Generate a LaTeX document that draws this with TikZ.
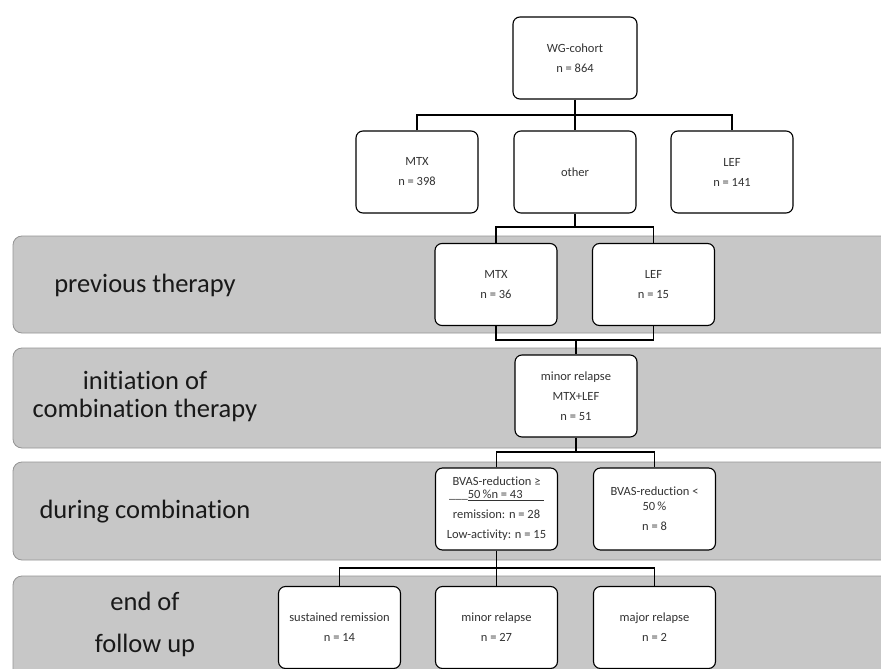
\documentclass[tikz,border=0pt]{standalone}
\usepackage{fontspec}
\setmainfont{Carlito}[Ligatures={NoCommon}]
\usetikzlibrary{positioning,calc,backgrounds}

\begin{document}
\begin{tikzpicture}[
  x=1pt, y=-1pt,
  font=\fontsize{12.5}{20}\selectfont,
  box/.style={rectangle, rounded corners=7pt, draw=black, line width=1.1pt,
              fill=white, minimum width=122pt, minimum height=82pt,
              align=center, text=black!80, inner sep=2pt},
  band/.style={rounded corners=9pt, draw=black!42, line width=0.8pt, fill=black!22},
  phase/.style={font=\fontsize{26.5}{28}\selectfont, align=center, text=black!90},
  link/.style={line width=1.1pt, draw=black}
]
\clip (0,0) rectangle (881,669);

% Phase bands
\path[band] (13,236) rectangle (910,333);
\path[band] (13,348) rectangle (910,448);
\path[band] (13,462) rectangle (910,560);
\path[band] (13,576) rectangle (910,710);

% Phase labels
\node[phase] (lprev) at (145,285) {previous therapy};
\node[phase] (linit) at (145,397) {initiation of\\combination therapy};
\node[phase] (ldur)  at (145,512) {during combination};
\node[phase, font=\fontsize{26.5}{42}\selectfont] (lend) at (145,624) {end of\\follow up};

% Cohort and first-line therapy
\node[box, minimum width=124pt] (wg) at (575,58) {WG-cohort\\n = 864};
\node[box] (mtxa)  at (417,172) {MTX\\n = 398};
\node[box] (other) at (575,172) {other};
\node[box] (lefa)  at (732,172) {LEF\\n = 141};

% Previous therapy
\node[box] (mtxb) at (496,284.5) {MTX\\n = 36};
\node[box] (lefb) at (653.5,284.5) {LEF\\n = 15};

% Combination
\node[box] (comb) at (576,396) {minor relapse\\MTX+LEF\\n = 51};

% During combination
\node[box] (good) at (496.5,509)
  {BVAS-reduction ≥\\[-7pt]\_\_\_\underline{50\,\%n = 43\hspace{1.7em}}\\remission: n = 28\\Low-activity: n = 15};
\node[box] (poor) at (654.5,509) {BVAS-reduction <\\[-5pt]50\,\%\\n = 8};

% End of follow up
\node[box] (sust) at (339.5,627.5) {sustained remission\\n = 14};
\node[box] (minr) at (496.5,627.5) {minor relapse\\n = 27};
\node[box] (majr) at (654.5,627.5) {major relapse\\n = 2};

% Connectors
\coordinate (f1) at (575,115);
\draw[link] (wg) -- (f1);
\draw[link] (mtxa.north) |- (f1) -| (lefa.north);
\draw[link] (f1) -- (other);

\coordinate (f2) at (575,227);
\draw[link] (other) -- (f2);
\draw[link] (mtxb.north) |- (f2) -| (lefb.north);

\coordinate (f3) at (576,340);
\draw[link] (mtxb.south) |- (f3) -| (lefb.south);
\draw[link] (f3) -- (comb);

\coordinate (f4) at (576,452);
\draw[link] (comb) -- (f4);
\draw[link] (good.north) |- (f4) -| (poor.north);

\coordinate (f5) at (496.5,568);
\draw[link] (good) -- (f5);
\draw[link] (sust.north) |- (f5) -| (majr.north);
\draw[link] (f5) -- (minr);

\end{tikzpicture}
\end{document}
